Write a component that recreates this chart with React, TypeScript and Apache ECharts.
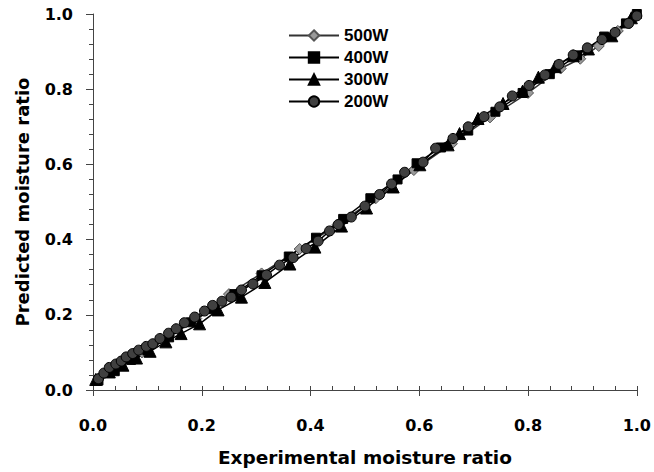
import React, { useEffect, useRef } from "react";
import * as echarts from "echarts";

const expt500 = [0.01, 0.05, 0.09, 0.14, 0.19, 0.25, 0.31, 0.38, 0.45, 0.52, 0.59, 0.66, 0.73, 0.8, 0.86, 0.896, 0.93, 0.965, 0.99];
const pred500 = [0.03, 0.065, 0.1, 0.145, 0.19, 0.255, 0.31, 0.375, 0.44, 0.51, 0.585, 0.655, 0.725, 0.79, 0.855, 0.881, 0.915, 0.955, 0.985];

const expt400 = [0.01, 0.04, 0.07, 0.1, 0.14, 0.18, 0.22, 0.26, 0.31, 0.36, 0.41, 0.46, 0.51, 0.56, 0.595, 0.64, 0.69, 0.74, 0.79, 0.84, 0.89, 0.94, 0.98, 1.0];
const pred400 = [0.025, 0.05, 0.08, 0.105, 0.14, 0.18, 0.215, 0.255, 0.305, 0.355, 0.405, 0.455, 0.51, 0.56, 0.603, 0.645, 0.69, 0.74, 0.79, 0.84, 0.89, 0.94, 0.975, 1.0];

const expt300 = [0.005, 0.03, 0.055, 0.08, 0.105, 0.134, 0.162, 0.196, 0.23, 0.273, 0.316, 0.362, 0.408, 0.457, 0.503, 0.552, 0.601, 0.653, 0.674, 0.708, 0.754, 0.79, 0.819, 0.85, 0.883, 0.911, 0.954, 0.99];
const pred300 = [0.028, 0.048, 0.066, 0.085, 0.103, 0.128, 0.15, 0.176, 0.213, 0.247, 0.286, 0.335, 0.38, 0.436, 0.484, 0.54, 0.599, 0.652, 0.682, 0.722, 0.762, 0.795, 0.832, 0.86, 0.889, 0.907, 0.942, 0.99];

const expt200 = [0.01, 0.02, 0.03, 0.042, 0.052, 0.061, 0.073, 0.084, 0.098, 0.11, 0.123, 0.139, 0.153, 0.168, 0.187, 0.205, 0.22, 0.237, 0.254, 0.273, 0.294, 0.319, 0.343, 0.368, 0.392, 0.414, 0.435, 0.451, 0.475, 0.5, 0.527, 0.549, 0.573, 0.607, 0.63, 0.662, 0.69, 0.719, 0.748, 0.771, 0.802, 0.831, 0.857, 0.883, 0.909, 0.936, 0.96, 0.985, 1.0];
const pred200 = [0.03, 0.045, 0.06, 0.069, 0.077, 0.088, 0.097, 0.106, 0.116, 0.123, 0.137, 0.151, 0.163, 0.179, 0.194, 0.21, 0.225, 0.236, 0.247, 0.266, 0.282, 0.306, 0.332, 0.352, 0.376, 0.396, 0.423, 0.44, 0.46, 0.489, 0.52, 0.548, 0.579, 0.606, 0.643, 0.669, 0.7, 0.727, 0.753, 0.782, 0.81, 0.838, 0.866, 0.891, 0.91, 0.932, 0.951, 0.975, 0.995];

const seriesNames = ["500W", "400W", "300W", "200W"];
const xTitle = "Experimental moisture ratio";
const yTitle = "Predicted moisture ratio";

const zip = (a: number[], b: number[]) => a.map((v, i) => [v, b[i]]);

const AXIS_COLOR = "#444";
const LABEL_FONT = "DejaVu Sans";
const TITLE_FONT = "DejaVu Sans";

export default function App() {
  const ref = useRef<HTMLDivElement>(null);
  useEffect(() => {
    if (!ref.current) return;
    const chart = echarts.init(ref.current, null, { renderer: "svg" });
    const common = { type: "line", xAxisIndex: 0, yAxisIndex: 0, smooth: false };
    chart.setOption({
      animation: false,
      backgroundColor: "#fff",
      grid: { left: 93, right: 17, top: 14, bottom: 82, containLabel: false },
      legend: {
        orient: "vertical",
        left: 283,
        top: 22,
        itemWidth: 50,
        itemHeight: 13,
        itemGap: 5,
        textStyle: { fontFamily: "Liberation Sans", fontWeight: "bold", fontSize: 17, color: "#000" },
        data: seriesNames,
      },
      xAxis: [
        {
          type: "value",
          position: "bottom",
          min: 0,
          max: 1,
          interval: 0.2,
          name: xTitle,
          nameLocation: "middle",
          nameGap: 58,
          nameTextStyle: { fontFamily: TITLE_FONT, fontWeight: "bold", fontSize: 18.5, color: "#000" },
          axisLine: { show: true, onZero: false, lineStyle: { color: AXIS_COLOR, width: 1 } },
          axisTick: { show: true, inside: true, length: 4, lineStyle: { color: AXIS_COLOR } },
          minorTick: { show: true, splitNumber: 5, length: 4, lineStyle: { color: AXIS_COLOR } },
          axisLabel: {
            margin: 27,
            fontFamily: LABEL_FONT,
            fontWeight: "bold",
            fontSize: 16,
            color: "#000",
            formatter: (v: number) => v.toFixed(1),
          },
          splitLine: { show: false },
        },
        {
          type: "value",
          position: "bottom",
          min: 0,
          max: 1,
          interval: 0.2,
          axisLine: { show: false, onZero: false },
          axisTick: { show: true, inside: false, length: 6, lineStyle: { color: AXIS_COLOR } },
          axisLabel: { show: false },
          splitLine: { show: false },
        },
      ],
      yAxis: {
        type: "value",
        min: 0,
        max: 1,
        interval: 0.2,
        name: yTitle,
        nameLocation: "middle",
        nameGap: 62,
        nameTextStyle: { fontFamily: TITLE_FONT, fontWeight: "bold", fontSize: 18, color: "#000" },
        axisLine: { show: true, onZero: false, lineStyle: { color: AXIS_COLOR, width: 1 } },
        axisTick: { show: true, inside: false, length: 7, lineStyle: { color: AXIS_COLOR } },
        minorTick: { show: true, splitNumber: 5, length: 4, lineStyle: { color: AXIS_COLOR } },
        axisLabel: {
          margin: 20,
          fontFamily: LABEL_FONT,
          fontWeight: "bold",
          fontSize: 16,
          color: "#000",
          formatter: (v: number) => v.toFixed(1),
        },
        splitLine: { show: false },
      },
      series: [
        {
          ...common,
          name: seriesNames[0],
          data: zip(expt500, pred500),
          symbol: "diamond",
          symbolSize: 11,
          itemStyle: { color: "#9a9a9a", borderColor: "#555", borderWidth: 1 },
          lineStyle: { color: "#333", width: 1.5 },
        },
        {
          ...common,
          name: seriesNames[1],
          data: zip(expt400, pred400),
          symbol: "rect",
          symbolSize: 9,
          itemStyle: { color: "#000", borderColor: "#000", borderWidth: 1 },
          lineStyle: { color: "#000", width: 1.5 },
        },
        {
          ...common,
          name: seriesNames[2],
          data: zip(expt300, pred300),
          symbol: "triangle",
          symbolSize: 12,
          itemStyle: { color: "#000", borderColor: "#000", borderWidth: 1 },
          lineStyle: { color: "#000", width: 1.5 },
        },
        {
          ...common,
          name: seriesNames[3],
          data: zip(expt200, pred200),
          symbol: "circle",
          symbolSize: 10,
          itemStyle: { color: "#404040", borderColor: "#000", borderWidth: 1 },
          lineStyle: { color: "#000", width: 1.5 },
        },
      ],
    });
    return () => chart.dispose();
  }, []);
  return <div ref={ref} style={{ width: 654, height: 472, position: "absolute", left: 0, top: 0 }} />;
}
